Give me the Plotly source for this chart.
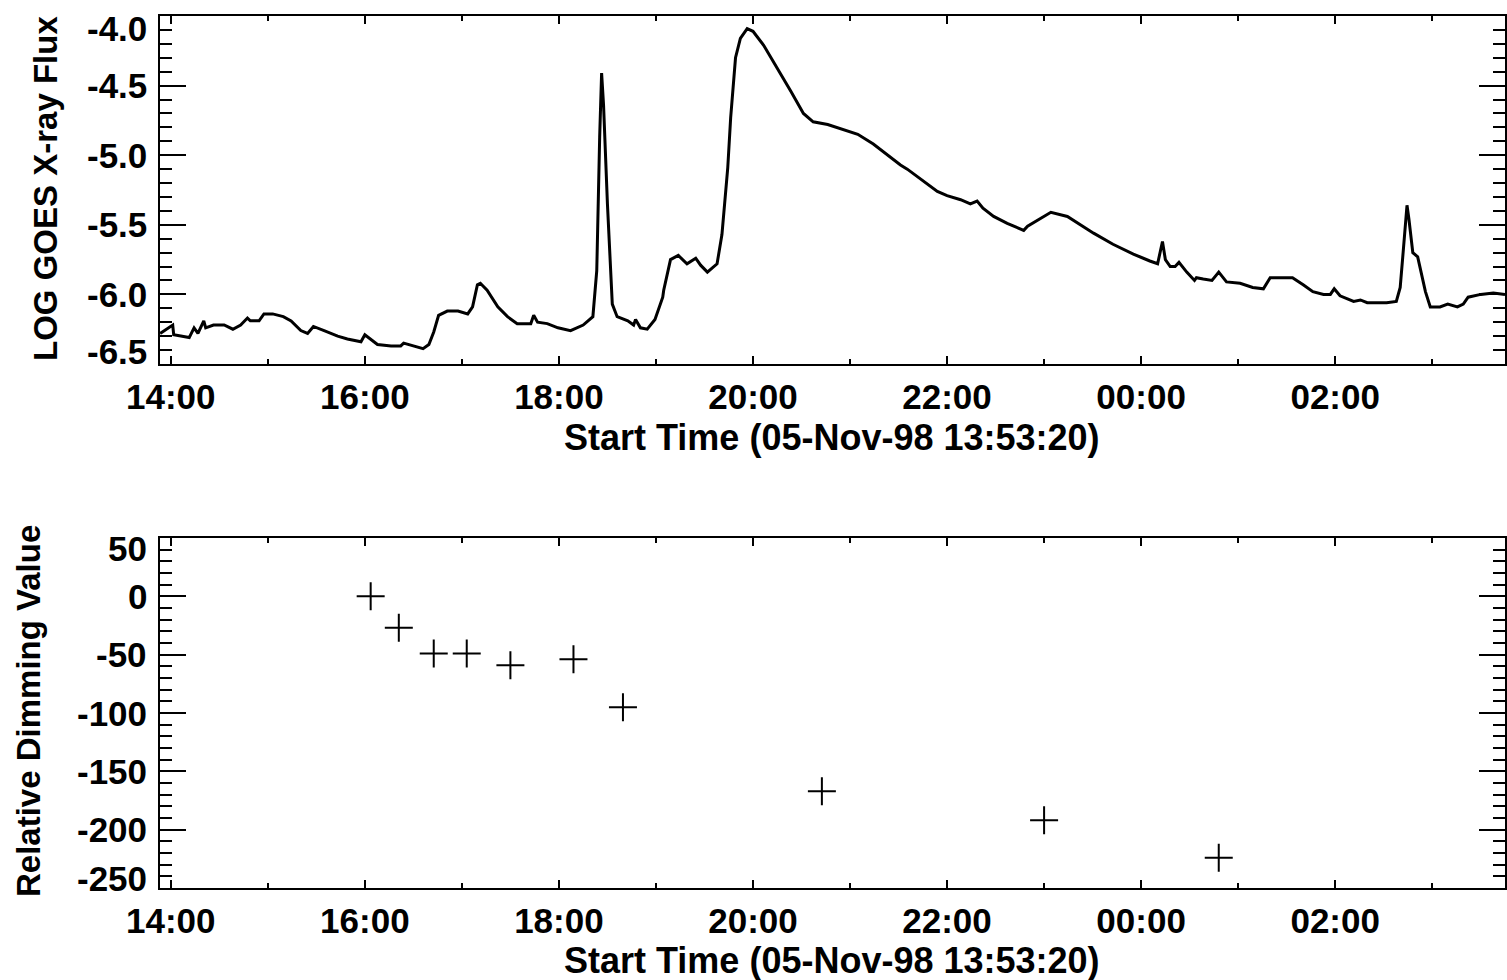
import plotly.graph_objects as go
import pandas as pd

BASE = pd.Timestamp("1998-11-05 00:00:00")

# GOES X-ray flux (log), time in hours since 05-Nov-98 00:00
goes_hours = [
    13.89, 14.02, 14.03, 14.19, 14.24, 14.28, 14.34, 14.36, 14.44, 14.55,
    14.64, 14.72, 14.79, 14.82, 14.91, 14.96, 15.05, 15.16, 15.24, 15.34,
    15.41, 15.47, 15.58, 15.72, 15.82, 15.96, 16.00, 16.04, 16.13, 16.27,
    16.37, 16.40, 16.50, 16.60, 16.66, 16.71, 16.76, 16.85, 16.96, 17.06,
    17.11, 17.16, 17.19, 17.26, 17.37, 17.47, 17.57, 17.71, 17.74, 17.78,
    17.88, 17.99, 18.12, 18.25, 18.35, 18.39, 18.42, 18.44, 18.46, 18.50,
    18.55, 18.60, 18.71, 18.77, 18.79, 18.84, 18.91, 18.99, 19.07, 19.08,
    19.15, 19.23, 19.32, 19.41, 19.46, 19.53, 19.63, 19.68, 19.74, 19.77,
    19.82, 19.87, 19.94, 20.00, 20.11, 20.25, 20.39, 20.52, 20.62, 20.77,
    20.90, 21.08, 21.24, 21.52, 21.59, 21.90, 22.00, 22.14, 22.24, 22.31,
    22.37, 22.48, 22.62, 22.79, 22.83, 22.93, 23.07, 23.24, 23.35, 23.51,
    23.71, 23.92, 24.09, 24.17, 24.22, 24.25, 24.30, 24.35, 24.39, 24.47,
    24.55, 24.57, 24.64, 24.73, 24.80, 24.88, 25.02, 25.15, 25.26, 25.33,
    25.43, 25.56, 25.67, 25.77, 25.88, 25.95, 25.99, 26.05, 26.19, 26.26,
    26.33, 26.53, 26.63, 26.67, 26.70, 26.74, 26.76, 26.80, 26.85, 26.88,
    26.93, 26.98, 27.08, 27.16, 27.26, 27.32, 27.37, 27.50, 27.63, 27.75,
]
goes_logflux = [
    -6.28, -6.22, -6.29, -6.31, -6.24, -6.28, -6.19, -6.24, -6.22, -6.22,
    -6.25, -6.22, -6.17, -6.19, -6.19, -6.14, -6.14, -6.16, -6.19, -6.26,
    -6.28, -6.23, -6.26, -6.30, -6.32, -6.34, -6.29, -6.31, -6.36, -6.37,
    -6.37, -6.35, -6.37, -6.39, -6.36, -6.27, -6.15, -6.12, -6.12, -6.14,
    -6.09, -5.93, -5.92, -5.97, -6.09, -6.16, -6.21, -6.21, -6.15, -6.20,
    -6.21, -6.24, -6.26, -6.22, -6.16, -5.83, -4.87, -4.41, -4.64, -5.35,
    -6.07, -6.16, -6.19, -6.22, -6.18, -6.24, -6.25, -6.18, -6.02, -5.97,
    -5.75, -5.72, -5.78, -5.74, -5.79, -5.84, -5.78, -5.57, -5.09, -4.73,
    -4.30, -4.16, -4.09, -4.11, -4.21, -4.37, -4.54, -4.70, -4.76, -4.78,
    -4.81, -4.85, -4.92, -5.07, -5.10, -5.26, -5.29, -5.32, -5.35, -5.33,
    -5.38, -5.44, -5.49, -5.54, -5.51, -5.47, -5.41, -5.44, -5.49, -5.56,
    -5.64, -5.71, -5.76, -5.78, -5.62, -5.75, -5.80, -5.80, -5.77, -5.84,
    -5.90, -5.88, -5.89, -5.90, -5.84, -5.91, -5.92, -5.95, -5.96, -5.88,
    -5.88, -5.88, -5.93, -5.98, -6.00, -6.00, -5.96, -6.01, -6.05, -6.04,
    -6.06, -6.06, -6.05, -5.95, -5.70, -5.36, -5.46, -5.70, -5.73, -5.82,
    -5.98, -6.09, -6.09, -6.07, -6.09, -6.07, -6.02, -6.00, -5.99, -6.00,
]

# Relative dimming values
dim_hours = [16.06, 16.35, 16.71, 17.05, 17.50, 18.15, 18.66, 20.71, 23.00, 24.80]
dim_values = [0, -27, -49, -49, -59, -54, -95, -167, -192, -224]

# Tick labels
flux_tickvals = [-4.0, -4.5, -5.0, -5.5, -6.0, -6.5]
flux_ticktext = ["-4.0", "-4.5", "-5.0", "-5.5", "-6.0", "-6.5"]
dim_tickvals = [50, 0, -50, -100, -150, -200, -250]
dim_ticktext = ["50", "0", "-50", "-100", "-150", "-200", "-250"]

x_title = "Start Time (05-Nov-98 13:53:20)"
x_start = "1998-11-05 13:53:20"
x_end = "1998-11-06 03:45:00"


def to_time(hours):
    return [BASE + pd.Timedelta(hours=h) for h in hours]


fig = go.Figure()
fig.add_trace(go.Scatter(
    x=to_time(goes_hours), y=goes_logflux, mode="lines",
    line=dict(color="black", width=3), xaxis="x", yaxis="y",
    showlegend=False,
))
fig.add_trace(go.Scatter(
    x=to_time(dim_hours), y=dim_values, mode="markers",
    marker=dict(symbol="cross-thin", size=20, color="black",
                line=dict(color="black", width=2)),
    xaxis="x2", yaxis="y2", showlegend=False,
))

FAMILY = "Liberation Sans, Arial, sans-serif"
tick_font = dict(family=FAMILY, size=35, color="black", weight="bold")
title_font = dict(family=FAMILY, size=36, color="black", weight="bold")
ytitle_font1 = dict(family=FAMILY, size=33, color="black", weight="bold")
ytitle_font2 = dict(family=FAMILY, size=33, color="black", weight="bold")

xdom = [160 / 1507, 1505 / 1507]


def xaxis_cfg(anchor):
    return dict(
        domain=xdom, anchor=anchor, type="date", range=[x_start, x_end],
        tickformat="%H:%M", tick0="1998-11-05 14:00:00", dtick=7200000,
        ticks="inside", ticklen=8, tickwidth=2, tickcolor="black",
        minor=dict(ticks="inside", ticklen=5, tickwidth=2, tickcolor="black",
                   dtick=3600000, tick0="1998-11-05 14:00:00", showgrid=False),
        showline=True, linewidth=2, linecolor="black", mirror="ticks",
        showgrid=False, zeroline=False, tickfont=tick_font,
        ticklabelstandoff=1, automargin=False,
    )


def yaxis_cfg(anchor, dom, rng, tv, minor_dt):
    return dict(
        domain=dom, anchor=anchor, range=rng, tickvals=tv,
        ticks="inside", ticklen=26, tickwidth=2, tickcolor="black",
        minor=dict(ticks="inside", ticklen=12, tickwidth=2, tickcolor="black",
                   dtick=minor_dt, tick0=0, showgrid=False),
        showline=True, linewidth=2, linecolor="black", mirror="ticks",
        showgrid=False, zeroline=False, showticklabels=False,
        automargin=False,
    )


def ylabel_annotations(yref, vals, texts, end_shift):
    anns = []
    n = len(vals)
    for i, (v, t) in enumerate(zip(vals, texts)):
        shift = 0
        if i == 0:
            shift = -end_shift
        elif i == n - 1:
            shift = end_shift
        anns.append(dict(
            text=t, x=149 / 1507, y=v, xref="paper", yref=yref,
            xanchor="right", yanchor="middle", yshift=shift,
            showarrow=False, font=tick_font,
        ))
    return anns


annotations = [
    dict(text="LOG GOES X-ray Flux", textangle=-90, x=46 / 1507, y=1 - 189 / 980,
         xref="paper", yref="paper", xanchor="center", yanchor="middle",
         showarrow=False, font=ytitle_font1),
    dict(text="Relative Dimming Value", textangle=-90, x=28 / 1507, y=1 - 711 / 980,
         xref="paper", yref="paper", xanchor="center", yanchor="middle",
         showarrow=False, font=ytitle_font2),
    dict(text=x_title, x=832 / 1507, y=1 - 437 / 980,
         xref="paper", yref="paper", xanchor="center", yanchor="middle",
         showarrow=False, font=title_font),
    dict(text=x_title, x=832 / 1507, y=1 - 960 / 980,
         xref="paper", yref="paper", xanchor="center", yanchor="middle",
         showarrow=False, font=title_font),
]
annotations += ylabel_annotations("y", flux_tickvals, flux_ticktext, 13)
annotations += ylabel_annotations("y2", dim_tickvals, dim_ticktext, 10)

fig.update_layout(
    width=1507, height=980,
    margin=dict(l=0, r=0, t=0, b=0, autoexpand=False),
    paper_bgcolor="white", plot_bgcolor="white",
    showlegend=False,
    xaxis=xaxis_cfg("y"),
    yaxis=yaxis_cfg("x", [1 - 364 / 980, 1 - 16 / 980], [-6.5, -4.0],
                    flux_tickvals, 0.1),
    xaxis2=xaxis_cfg("y2"),
    yaxis2=yaxis_cfg("x2", [1 - 888 / 980, 1 - 538 / 980], [-250, 50],
                     dim_tickvals, 10),
    annotations=annotations,
)

fig.write_html("out.html")
